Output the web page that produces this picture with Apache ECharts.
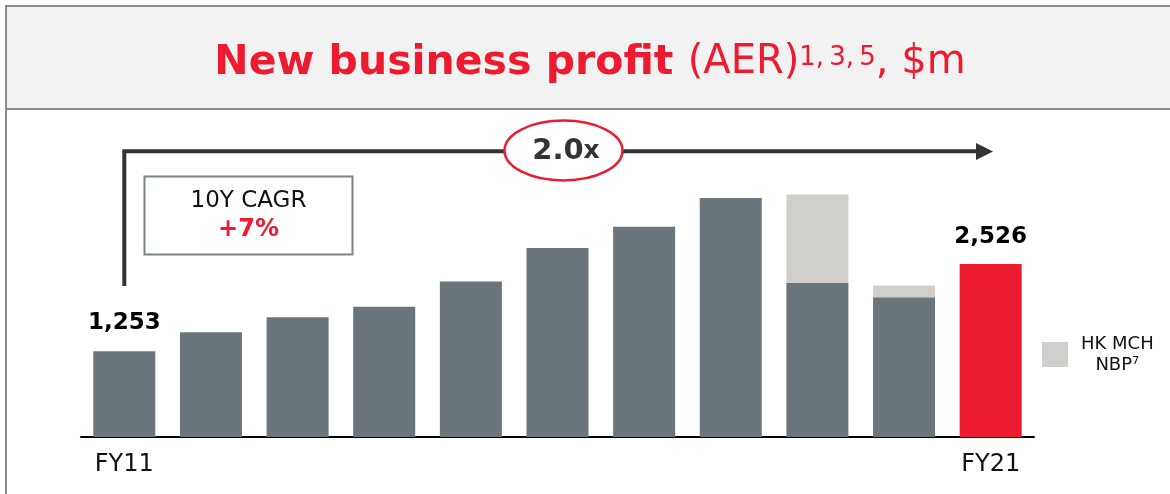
<!DOCTYPE html>
<html>
<head>
<meta charset="utf-8">
<script src="https://cdn.jsdelivr.net/npm/echarts@6/dist/echarts.min.js"></script>
<style>
html,body{margin:0;padding:0;background:#fff;}
#chart{width:1170px;height:494px;}
</style>
</head>
<body>
<div id="chart"></div>
<script>
const categories = ['FY11','FY12','FY13','FY14','FY15','FY16','FY17','FY18','FY19','FY20','FY21'];
const coreNBP   = [1253, 1530, 1750, 1900, 2270, 2760, 3070, 3490, 2250, 2040, 2526];
const hkMchNBP  = [0, 0, 0, 0, 0, 0, 0, 0, 1290, 170, 0];
const shownTickLabels = ['FY11', 'FY21'];
const labelledValues = ['1,253', '2,526'];

const GREY = '#6a757c', LIGHT = '#d0cfcb', RED = '#ed1b2f', DARK = '#333333';
const FONT = 'DejaVu Sans';
const last = categories.length - 1;

const chart = echarts.init(document.getElementById('chart'), null, {renderer: 'canvas'});

const baseData = coreNBP.map((v, i) => {
  const item = {value: v};
  if (i === last) item.itemStyle = {color: RED};
  if (i === 0 || i === last) {
    item.label = {
      show: true, position: 'top', distance: i === 0 ? 17 : 15,
      formatter: labelledValues[i === 0 ? 0 : 1],
      fontFamily: FONT, fontWeight: 'bold', fontSize: 23, color: '#000'
    };
  }
  return item;
});

const option = {
  animation: false,
  backgroundColor: '#fff',
  grid: {left: 81, right: 136, top: 163, bottom: 57, containLabel: false},
  xAxis: {
    type: 'category', data: categories,
    axisLine: {show: true, lineStyle: {color: '#000', width: 2}},
    axisTick: {show: false},
    axisLabel: {
      interval: 0, margin: 16, fontFamily: FONT, fontSize: 24, color: '#111',
      formatter: v => shownTickLabels.indexOf(v) >= 0 ? v : ''
    }
  },
  yAxis: {type: 'value', min: 0, max: 4000, show: false, splitLine: {show: false}},
  legend: {
    data: ['HK MCH NBP'], left: 1042, top: 335, orient: 'vertical', padding: 0,
    icon: 'rect', itemWidth: 26, itemHeight: 25,
    formatter: () => '{a|HK MCH}\n{a|NBP⁷}',
    textStyle: {
      fontFamily: FONT, color: '#111', padding: [0, 0, 0, 8],
      rich: {a: {fontFamily: FONT, fontSize: 18, lineHeight: 21, align: 'center', color: '#111'}}
    },
    selectedMode: false
  },
  series: [
    {
      name: 'Core NBP', type: 'bar', stack: 'nbp', barWidth: 62,
      itemStyle: {color: GREY}, data: baseData
    },
    {
      name: 'HK MCH NBP', type: 'bar', stack: 'nbp', barWidth: 62,
      itemStyle: {color: LIGHT}, data: hkMchNBP
    }
  ],
  graphic: [
    // title panel
    {type: 'rect', z: 1, shape: {x: 6, y: 6, width: 1170, height: 103},
     style: {fill: '#f2f2f2', stroke: '#8a8a8a', lineWidth: 2}},
    {type: 'line', z: 1, shape: {x1: 6, y1: 109, x2: 6, y2: 494},
     style: {stroke: '#8a8a8a', lineWidth: 2}},
    {type: 'text', z: 2, x: 590, y: 63,
     style: {
       text: '{b|New business profit }{n|(AER)}{s|1,\u20093,\u20095}{n|, $m}',
       align: 'center', verticalAlign: 'middle',
       rich: {
         b: {fontFamily: FONT, fontWeight: 'bold', fontSize: 41, fill: RED, lineHeight: 48},
         n: {fontFamily: FONT, fontSize: 40, fill: RED, lineHeight: 48},
         s: {fontFamily: FONT, fontSize: 26, fill: RED, padding: [0, 0, 10, 0]}
       }
     }},
    // growth arrow
    {type: 'polyline', z: 3, shape: {points: [[124.3, 286], [124.3, 151.3], [978, 151.3]]},
     style: {stroke: DARK, lineWidth: 4, fill: null}},
    {type: 'polygon', z: 3, shape: {points: [[976, 143], [993, 151.5], [976, 160]]},
     style: {fill: DARK}},
    {type: 'ellipse', z: 4, shape: {cx: 563.5, cy: 150.5, rx: 59, ry: 30},
     style: {fill: '#fff', stroke: RED, lineWidth: 2.5}},
    {type: 'text', z: 5, x: 566, y: 151,
     style: {
       text: '{a|2.0}{b|x}', align: 'center', verticalAlign: 'middle',
       rich: {
         a: {fontFamily: FONT, fontWeight: 'bold', fontSize: 29, fill: DARK},
         b: {fontFamily: FONT, fontWeight: 'bold', fontSize: 25, fill: DARK}
       }
     }},
    // CAGR box
    {type: 'rect', z: 3, shape: {x: 144.5, y: 176.5, width: 208, height: 78},
     style: {fill: '#fff', stroke: '#7a8489', lineWidth: 2}},
    {type: 'text', z: 4, x: 248.5, y: 201.5,
     style: {text: '10Y CAGR', fontFamily: FONT, fontSize: 23, fill: '#111', align: 'center', verticalAlign: 'middle'}},
    {type: 'text', z: 4, x: 248.5, y: 230,
     style: {text: '+7%', fontFamily: FONT, fontWeight: 'bold', fontSize: 24, fill: RED, align: 'center', verticalAlign: 'middle'}}
  ]
};
chart.setOption(option);
</script>
</body>
</html>
